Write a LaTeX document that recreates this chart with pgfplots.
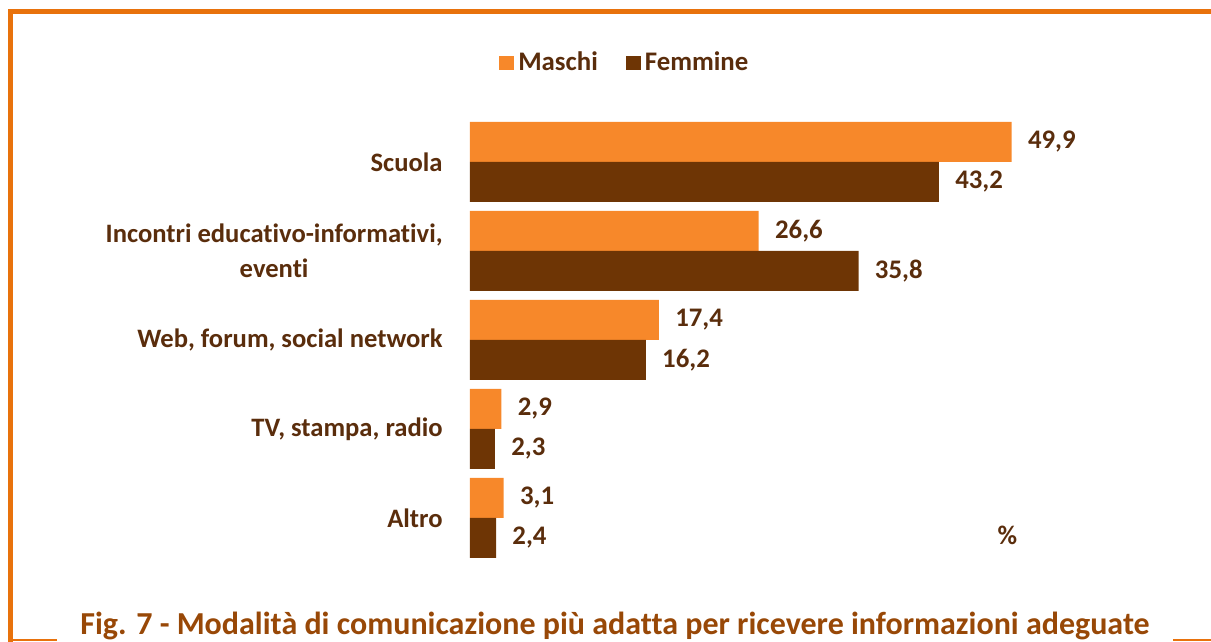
\documentclass[border=0pt]{standalone}
\usepackage{fontspec}
\setmainfont{Carlito}[Ligatures=NoCommon]
\usepackage{pgfplots}
\pgfplotsset{compat=1.18}
\definecolor{frameor}{HTML}{E8720C}
\definecolor{maschi}{HTML}{F7882A}
\definecolor{femmine}{HTML}{6E3505}
\definecolor{txt}{HTML}{5A2D0C}
\definecolor{titlec}{HTML}{984807}
\begin{document}
\begin{tikzpicture}[x=0.5pt,y=0.5pt]
% frame (image coords: y measured from bottom, 642 px tall)
\draw[frameor,line width=2.5pt] (10,0) -- (10,630) -- (1230,630);
\draw[frameor,line width=1pt] (10,2) -- (57,2);
\draw[frameor,line width=1pt] (1173,2) -- (1230,2);

\begin{axis}[
  at={(235pt,39.75pt)}, anchor=south west,
  scale only axis,
  width=298.5pt, height=222.5pt,
  xbar, bar width=20pt,
  xmin=0, xmax=55,
  ymin=-0.5, ymax=4.5,
  axis line style={draw=none},
  xtick=\empty,
  ytick={0,1,2,3,4},
  yticklabels={Altro, {TV, stampa, radio}, {Web, forum, social network},
    {Incontri educativo-informativi,\\eventi}, Scuola},
  major tick length=0pt,
  yticklabel style={font=\fontsize{13.3}{17.5}\selectfont\bfseries, text=txt,
    align=center, anchor=east, inner sep=0pt, xshift=-13.5pt},
  /pgf/number format/.cd, use comma, fixed, fixed zerofill, precision=1,
    assume math mode=true, /pgfplots/.cd,
  nodes near coords,
  every node near coord/.append style={font=\fontsize{13.4}{15}\selectfont\bfseries,
    text=txt, anchor=west, inner sep=0pt, xshift=8pt},
  legend style={at={(0.261,1.1225)}, anchor=center, draw=none, fill=none,
    legend columns=2, font=\fontsize{13.4}{15}\selectfont\bfseries, text=txt,
    /tikz/every even column/.append style={column sep=12pt}},
  legend image code/.code={\fill[#1] (0pt,-3.6pt) rectangle (7.5pt,3.6pt);},
  clip=false,
]
\addplot[fill=maschi, draw=none, bar shift=10pt] coordinates
  {(49.9,4) (26.6,3) (17.4,2) (2.9,1) (3.1,0)};
\addplot[fill=femmine, draw=none, bar shift=-10pt] coordinates
  {(43.2,4) (35.8,3) (16.2,2) (2.3,1) (2.4,0)};
\legend{Maschi, Femmine}
\node[font=\fontsize{13.4}{15}\selectfont\bfseries, text=txt] at (axis cs:49.5,-0.19) {\%};
\end{axis}

\node[anchor=base, font=\fontsize{16}{20}\selectfont\bfseries, text=titlec] at (615,7) {Fig. 7 - Modalità di comunicazione più adatta per ricevere informazioni adeguate};

\pgfresetboundingbox
\useasboundingbox (0,0) rectangle (1211,642);
\end{tikzpicture}
\end{document}
